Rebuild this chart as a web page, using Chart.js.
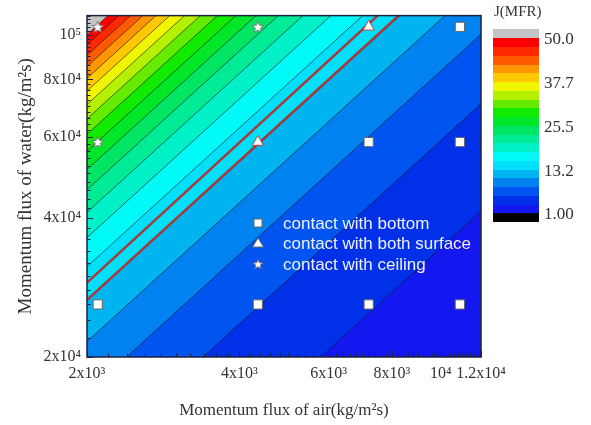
<!DOCTYPE html>
<html lang="en">
<head>
    <meta charset="UTF-8">
    <title>J(MFR) contour</title>
    <style>
        html, body { margin: 0; padding: 0; background: #fff; }
    </style>
</head>
<body>
    <canvas id="myChart" width="591" height="425"></canvas>

    <script src="https://cdn.jsdelivr.net/npm/chart.js"></script>
    <script>
        // axes
        const xRange = [2000, 12000];
        const yRange = [20000, 110000];
        const xTicks = [2000, 4000, 6000, 8000, 10000, 12000];
        const xTickLabels = ['2x10³', '4x10³', '6x10³', '8x10³', '10⁴', '1.2x10⁴'];
        const yTicks = [20000, 40000, 60000, 80000, 100000];
        const yTickLabels = ['2x10⁴', '4x10⁴', '6x10⁴', '8x10⁴', '10⁵'];

        // contour levels of J (MFR) and their fill colours
        const levels = [1.00, 3.45, 5.90, 8.35, 10.80, 13.25, 15.70, 18.15, 20.60, 23.05, 25.50,
            27.95, 30.40, 32.85, 35.30, 37.75, 40.20, 42.65, 45.10, 47.55, 50.00];
        const bandColors = [
            '#1418f0', '#0030e8', '#0055f0', '#0082f0', '#00b4f0',
            '#00e0fa', '#00faf8', '#00f0c8', '#00eb96', '#00e664',
            '#00e628', '#10eb00', '#64eb00', '#b4f000', '#f0f500',
            '#ffc800', '#ff9600', '#ff5a00', '#ff2800', '#ff0000'
        ];
        const belowColor = '#000000';
        const aboveColor = '#c4c4c4';
        const barValues = [50.0, 37.75, 25.5, 13.25, 1.00];
        const barLabels = ['50.0', '37.7', '25.5', '13.2', '1.00'];

        // test cases
        const bottomPts = [
            { x: 2100, y: 26000 }, { x: 4350, y: 26000 }, { x: 7200, y: 26000 }, { x: 10900, y: 26000 },
            { x: 7200, y: 58500 }, { x: 10900, y: 58500 }, { x: 10900, y: 104000 }
        ];
        const bothPts = [{ x: 4350, y: 58500 }, { x: 7200, y: 104000 }];
        const ceilingPts = [{ x: 2100, y: 58500 }, { x: 2100, y: 104000 }, { x: 4350, y: 104000 }];

        // regime boundaries (red lines)
        const boundaryUpper = [{ x: 2000, y: 29000 }, { x: 7500, y: 110000 }];
        const boundaryLower = [{ x: 2000, y: 26600 }, { x: 8250, y: 110000 }];

        const serif = "'Liberation Serif', 'Times New Roman', serif";
        const sans = "'Liberation Sans', Arial, sans-serif";

        function makeStar(size) {
            const c = document.createElement('canvas');
            c.width = c.height = size;
            const g = c.getContext('2d');
            const R = size / 2 - 1, r = R * 0.45;
            g.beginPath();
            for (let i = 0; i < 10; i++) {
                const a = -Math.PI / 2 + i * Math.PI / 5;
                const rad = i % 2 ? r : R;
                g.lineTo(size / 2 + rad * Math.cos(a), size / 2 + 0.5 + rad * Math.sin(a));
            }
            g.closePath();
            g.fillStyle = '#ffffff';
            g.fill();
            g.strokeStyle = '#777';
            g.lineWidth = 1;
            g.stroke();
            return c;
        }
        const starImg = makeStar(14);
        const starSmall = makeStar(12);

        // filled contour bands + contour lines, J = water / air
        const contourPlugin = {
            id: 'contour',
            beforeDatasetsDraw(chart) {
                const { ctx, chartArea: a, scales: { x, y } } = chart;
                ctx.save();
                ctx.beginPath();
                ctx.rect(a.left, a.top, a.right - a.left, a.bottom - a.top);
                ctx.clip();
                ctx.fillStyle = belowColor;
                ctx.fillRect(a.left, a.top, a.right - a.left, a.bottom - a.top);

                const linePx = L => [
                    x.getPixelForValue(xRange[0]), y.getPixelForValue(L * xRange[0]),
                    x.getPixelForValue(xRange[1]), y.getPixelForValue(L * xRange[1])
                ];
                levels.forEach((L, i) => {
                    const [ax, ay, bx, by] = linePx(L);
                    const top = Math.min(ay, by, a.top) - 10;
                    ctx.beginPath();
                    ctx.moveTo(ax, ay);
                    ctx.lineTo(bx, by);
                    ctx.lineTo(bx, top);
                    ctx.lineTo(ax, top);
                    ctx.closePath();
                    ctx.fillStyle = i < bandColors.length ? bandColors[i] : aboveColor;
                    ctx.fill();
                });
                ctx.strokeStyle = 'rgba(20,20,30,0.6)';
                ctx.lineWidth = 1;
                levels.forEach(L => {
                    const [ax, ay, bx, by] = linePx(L);
                    ctx.beginPath();
                    ctx.moveTo(ax, ay);
                    ctx.lineTo(bx, by);
                    ctx.stroke();
                });
                ctx.restore();
            },
            afterDraw(chart) {
                const { ctx, chartArea: a, scales: { x, y } } = chart;
                ctx.save();
                // inward ticks
                ctx.strokeStyle = '#1c2040';
                ctx.lineWidth = 1;
                for (let v = 20000; v <= yRange[1]; v += 2000) {
                    const py = Math.round(y.getPixelForValue(v)) + 0.5;
                    const len = yTicks.includes(v) ? 6 : 3.5;
                    ctx.beginPath(); ctx.moveTo(a.left, py); ctx.lineTo(a.left + len, py); ctx.stroke();
                }
                for (let v = 2000; v <= xRange[1]; v += 200) {
                    const px = Math.round(x.getPixelForValue(v)) + 0.5;
                    const len = xTicks.includes(v) ? 6 : 3.5;
                    ctx.beginPath(); ctx.moveTo(px, a.bottom); ctx.lineTo(px, a.bottom - len); ctx.stroke();
                }
                // frame
                ctx.lineWidth = 1.5;
                ctx.strokeRect(a.left, a.top, a.right - a.left, a.bottom - a.top);

                // legend inside plot
                const rows = [223, 243, 264];
                const mx = 258;
                ctx.font = '17px ' + sans;
                ctx.textBaseline = 'middle';
                ctx.textAlign = 'left';
                ctx.fillStyle = '#fff';
                ctx.strokeStyle = '#666';
                ctx.lineWidth = 1;
                ctx.fillRect(mx - 4, rows[0] - 4, 8, 8);
                ctx.strokeRect(mx - 4, rows[0] - 4, 8, 8);
                ctx.beginPath();
                ctx.moveTo(mx, rows[1] - 5); ctx.lineTo(mx + 5.5, rows[1] + 4); ctx.lineTo(mx - 5.5, rows[1] + 4);
                ctx.closePath(); ctx.fill(); ctx.stroke();
                ctx.drawImage(starSmall, mx - 6, rows[2] - 6);
                ctx.fillStyle = '#eef0ff';
                chart.data.datasets.slice(0, 3).forEach((ds, i) => {
                    ctx.fillText(ds.label, 283, rows[i] + 1);
                });

                // colour bar
                const bx = 493, bw = 46, bTop = 38, bBot = 213, ext = 9;
                const lo = levels[0], hi = levels[levels.length - 1];
                const vy = v => bBot - (v - lo) / (hi - lo) * (bBot - bTop);
                ctx.fillStyle = aboveColor;
                ctx.fillRect(bx, bTop - ext, bw, ext);
                ctx.fillStyle = belowColor;
                ctx.fillRect(bx, bBot, bw, ext);
                bandColors.forEach((c, i) => {
                    const y0 = vy(levels[i + 1]), y1 = vy(levels[i]);
                    ctx.fillStyle = c;
                    ctx.fillRect(bx, Math.floor(y0), bw, Math.ceil(y1) - Math.floor(y0));
                });
                ctx.fillStyle = '#333';
                ctx.font = '17px ' + serif;
                barValues.forEach((v, i) => {
                    ctx.fillText(barLabels[i], bx + 51, vy(v) + 2);
                });
                ctx.font = '15px ' + serif;
                ctx.fillText('J(MFR)', 494, 12);
                ctx.restore();
            }
        };

        const ctx = document.getElementById('myChart');

        new Chart(ctx, {
            type: 'scatter',
            data: {
                datasets: [
                    {
                        label: 'contact with bottom', data: bottomPts,
                        pointStyle: 'rect', pointRadius: 6.5, backgroundColor: '#fff',
                        borderColor: '#666', borderWidth: 1
                    },
                    {
                        label: 'contact with both surface', data: bothPts,
                        pointStyle: 'triangle', pointRadius: 6.5, backgroundColor: '#fff',
                        borderColor: '#b04848', borderWidth: 1
                    },
                    {
                        label: 'contact with ceiling', data: ceilingPts,
                        pointStyle: starImg, backgroundColor: '#fff'
                    },
                    {
                        label: 'boundary upper', data: boundaryUpper, showLine: true,
                        borderColor: '#ad3636', borderWidth: 2.5, pointRadius: 0
                    },
                    {
                        label: 'boundary lower', data: boundaryLower, showLine: true,
                        borderColor: '#ad3636', borderWidth: 2.5, pointRadius: 0
                    }
                ]
            },
            options: {
                responsive: false,
                animation: false,
                layout: { padding: { top: 15, right: 110, bottom: 0, left: 0 } },
                scales: {
                    x: {
                        type: 'logarithmic', position: 'bottom',
                        min: xRange[0], max: xRange[1],
                        afterBuildTicks: s => { s.ticks = xTicks.map(v => ({ value: v })); },
                        afterFit: s => { s.height = 68; },
                        grid: { display: false, drawTicks: false },
                        border: { display: false },
                        ticks: {
                            autoSkip: false, maxRotation: 0, padding: 7, color: '#333',
                            font: { family: serif, size: 16 },
                            callback: (v, i) => xTickLabels[i]
                        },
                        title: {
                            display: true, text: 'Momentum flux of air(kg/m²s)', color: '#333',
                            font: { family: serif, size: 17 }, padding: { bottom: 4 }
                        }
                    },
                    y: {
                        type: 'logarithmic', position: 'left',
                        min: yRange[0], max: yRange[1],
                        afterBuildTicks: s => { s.ticks = yTicks.map(v => ({ value: v })); },
                        afterFit: s => { s.width = 87; },
                        grid: { display: false, drawTicks: false },
                        border: { display: false },
                        ticks: {
                            autoSkip: false, padding: 6, color: '#333',
                            font: { family: serif, size: 16 },
                            callback: (v, i) => yTickLabels[i]
                        },
                        title: {
                            display: true, text: 'Momentum flux of water(kg/m²s)', color: '#333',
                            font: { family: serif, size: 19 }, padding: { top: 15 }
                        }
                    }
                },
                plugins: {
                    legend: { display: false },
                    tooltip: { enabled: false }
                }
            },
            plugins: [contourPlugin]
        });
    </script>
</body>
</html>
